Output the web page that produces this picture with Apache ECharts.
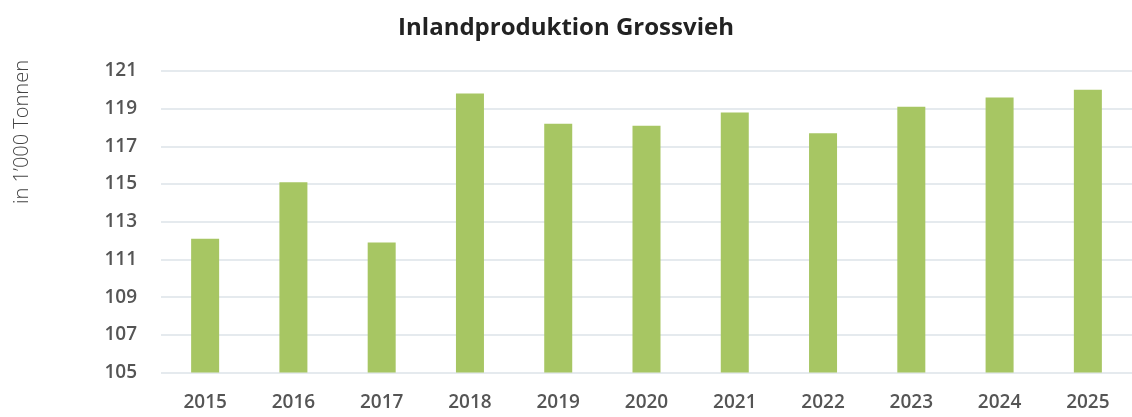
<!DOCTYPE html>
<html><head><meta charset="utf-8">
<script src="https://cdn.jsdelivr.net/npm/echarts@6/dist/echarts.min.js"></script>
<style>html,body{margin:0;padding:0;background:#fff}#c{width:1132px;height:417px}</style>
</head><body><div id="c"></div>
<script>
const categories = ['2015','2016','2017','2018','2019','2020','2021','2022','2023','2024','2025'];
const values = [112.1, 115.1, 111.9, 119.8, 118.2, 118.1, 118.8, 117.7, 119.1, 119.6, 120.0];
const yTicks = [105, 107, 109, 111, 113, 115, 117, 119, 121];
const titleText = 'Inlandproduktion Grossvieh';
const unitText = 'in 1\u2019000 Tonnen';

const chart = echarts.init(document.getElementById('c'), null, {renderer: 'canvas'});
chart.setOption({
  animation: false,
  title: {
    text: titleText, left: 'center', top: 11,
    textStyle: {fontFamily: 'Open Sans', fontWeight: 'bold', fontSize: 24, color: '#222'}
  },
  graphic: [{
    type: 'text', x: 22, y: 132, rotation: Math.PI / 2,
    style: {text: unitText, fontFamily: 'Open Sans', fontWeight: 300, fontSize: 20, fill: '#444',
      align: 'center', verticalAlign: 'middle'}
  }],
  grid: {left: 161, right: -5, top: 71, bottom: 44.5},
  xAxis: {
    type: 'category', data: categories,
    axisLine: {show: false}, axisTick: {show: false},
    axisLabel: {fontFamily: 'Open Sans', fontSize: 19, color: '#555', margin: 21, fontWeight: 600}
  },
  yAxis: {
    type: 'value', min: yTicks[0], max: yTicks[yTicks.length - 1], interval: 2,
    axisLine: {show: false}, axisTick: {show: false},
    axisLabel: {fontFamily: 'Open Sans', fontSize: 19, color: '#555', margin: 24, fontWeight: 600},
    splitLine: {lineStyle: {color: '#dde3e8', width: 1.5}}
  },
  series: [{
    type: 'bar', data: values, barWidth: 28,
    itemStyle: {color: '#a7c663'}
  }]
});
</script></body></html>
